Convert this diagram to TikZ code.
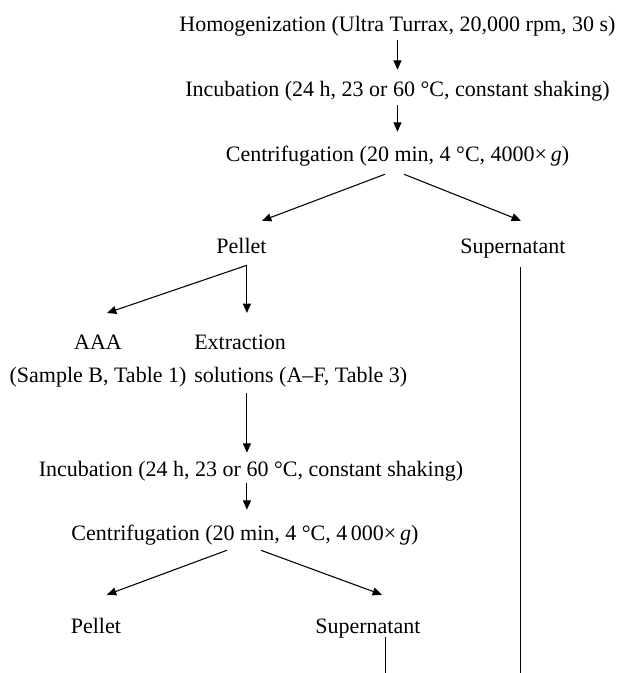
\documentclass[tikz,border=0pt]{standalone}
\usepackage{fontspec}
\setmainfont{Liberation Serif}
\usepackage{tikz}
\usetikzlibrary{positioning,arrows.meta}

\begin{document}
\begin{tikzpicture}[on grid, every node/.style={inner sep=0pt, font=\fontsize{16.5}{24.75}\selectfont},
    lbl/.style={text height=12pt, text depth=4pt},
    arr/.style={-{Triangle[length=7pt,width=6pt]}, line width=0.8pt}]
    \useasboundingbox (-298.1pt,-484.75pt) rectangle (166.9pt,20pt);
    \node[lbl] (homo) at (0,0) {Homogenization (Ultra Turrax, 20,000 rpm, 30 s)};
    \node[lbl, below=48.75pt of homo] (incub1) {Incubation (24 h, 23 or 60 °C, constant shaking)};
    \node[lbl, below=48.75pt of incub1] (centr1) {Centrifugation (20 min, 4 °C, 4000×\,\textit{g})};
    \node[lbl, below left=  69pt and 117pt  of centr1] (pellet1) {Pellet};
    \node[lbl, below right= 69pt and 86.6pt of centr1] (super1) {Supernatant};
    \node[below left= 63.25pt and 107.6pt of pellet1, anchor=north, align=center] (aaa) {\rule{0pt}{12pt}AAA\\(Sample B, Table 1)};
    \node[below left= 63.25pt and 35.6pt  of pellet1, anchor=north west, align=left] (extr) {\rule{0pt}{12pt}Extraction\\solutions (A–F, Table 3)};
    \node[lbl, below right= 166.5pt and 7.1pt of pellet1] (incub2) {Incubation (24 h, 23 or 60 °C, constant shaking)};
    \node[lbl, below left=  48pt and 4.5pt    of incub2] (centr2) {Centrifugation (20 min, 4 °C, 4\,000×\,\textit{g})};
    \node[lbl, below left=  69.75pt and 111.75pt of centr2] (pellet2) {Pellet};
    \node[lbl, below right= 69.75pt and 92.25pt  of centr2] (super2) {Supernatant};

    \coordinate (split) at ([xshift=4.1pt,yshift=-4.25pt]pellet1.south);
    \coordinate (bottom) at (0,-484.75pt);

    \draw[arr, shorten <=2pt, shorten >=8.25pt] (homo.south) -- (homo.south |- incub1.north);
    \draw[arr, shorten <=2pt, shorten >=10.5pt] (incub1.south) -- (incub1.south |- centr1.north);
    \draw[arr] ([xshift=-9.4pt,yshift=-5pt]centr1.south) -- ([xshift=15.4pt,yshift=12.75pt]pellet1.north);
    \draw[arr] ([xshift=4.9pt,yshift=-5pt]centr1.south) -- ([xshift=6pt,yshift=12.75pt]super1.north);
    \draw[arr] (split) -- ([xshift=6.75pt,yshift=15pt]aaa.north);
    \draw[arr, shorten >=15pt] (split) -- (split |- extr.north);
    \draw[line width=0.8pt] ([xshift=6pt,yshift=-5.75pt]super1.south) -- ([xshift=6pt]super1.south |- bottom);
    \draw[arr, shorten <=4pt, shorten >=5.25pt] (split |- extr.south) -- (split |- incub2.north);
    \draw[arr, shorten <=1.25pt, shorten >=10.5pt] (split |- incub2.south) -- (split |- centr2.north);
    \draw[arr] ([xshift=-13.5pt,yshift=-3.5pt]centr2.south) -- ([xshift=8.25pt,yshift=16.5pt]pellet2.north);
    \draw[arr] ([xshift=12pt,yshift=-3.5pt]centr2.south) -- ([xshift=10.5pt,yshift=16.5pt]super2.north);
    \draw[line width=0.8pt] ([xshift=13.5pt,yshift=1pt]super2.south) -- ([xshift=13.5pt]super2.south |- bottom);
\end{tikzpicture}
\end{document}
